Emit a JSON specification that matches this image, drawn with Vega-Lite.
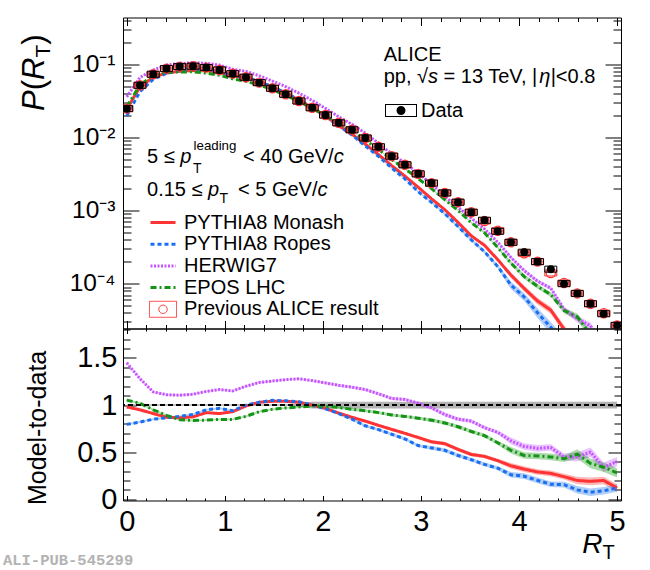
{
"$schema": "https://vega.github.io/schema/vega-lite/v6.json",
"autosize": {"type": "pad"},
"padding": {"left": 2, "top": 6.5, "right": 5, "bottom": 0},
"background": "white",
"spacing": 0,
"bounds": "flush",
"datasets": {
"data": [
{"x":0,"v":0.0247,"p":0.0247,"dr":1,"de":0.008,"s":"Data"},
{"x":0.135,"v":0.0515,"p":0.0515,"dr":1,"de":0.008,"s":"Data"},
{"x":0.27,"v":0.0729,"p":0.0729,"dr":1,"de":0.008,"s":"Data"},
{"x":0.405,"v":0.0871,"p":0.0871,"dr":1,"de":0.008,"s":"Data"},
{"x":0.54,"v":0.0927,"p":0.0927,"dr":1,"de":0.008,"s":"Data"},
{"x":0.676,"v":0.094,"p":0.094,"dr":1,"de":0.008,"s":"Data"},
{"x":0.811,"v":0.0899,"p":0.0899,"dr":1,"de":0.008,"s":"Data"},
{"x":0.946,"v":0.0835,"p":0.0835,"dr":1,"de":0.008,"s":"Data"},
{"x":1.081,"v":0.0743,"p":0.0743,"dr":1,"de":0.008,"s":"Data"},
{"x":1.216,"v":0.0664,"p":0.0664,"dr":1,"de":0.008,"s":"Data"},
{"x":1.351,"v":0.056,"p":0.056,"dr":1,"de":0.008,"s":"Data"},
{"x":1.486,"v":0.0469,"p":0.0469,"dr":1,"de":0.008,"s":"Data"},
{"x":1.621,"v":0.0388,"p":0.0388,"dr":1,"de":0.008,"s":"Data"},
{"x":1.756,"v":0.0314,"p":0.0314,"dr":1,"de":0.02,"s":"Data"},
{"x":1.891,"v":0.0254,"p":0.0254,"dr":1,"de":0.035,"s":"Data"},
{"x":2.027,"v":0.0202,"p":0.0202,"dr":1,"de":0.035,"s":"Data"},
{"x":2.162,"v":0.0158,"p":0.0158,"dr":1,"de":0.035,"s":"Data"},
{"x":2.297,"v":0.0127,"p":0.0127,"dr":1,"de":0.035,"s":"Data"},
{"x":2.432,"v":0.0098,"p":0.0098,"dr":1,"de":0.035,"s":"Data"},
{"x":2.567,"v":0.00743,"p":0.00743,"dr":1,"de":0.035,"s":"Data"},
{"x":2.702,"v":0.00554,"p":0.00554,"dr":1,"de":0.035,"s":"Data"},
{"x":2.837,"v":0.00422,"p":0.00422,"dr":1,"de":0.035,"s":"Data"},
{"x":2.972,"v":0.00317,"p":0.00317,"dr":1,"de":0.035,"s":"Data"},
{"x":3.108,"v":0.00237,"p":0.00237,"dr":1,"de":0.035,"s":"Data"},
{"x":3.243,"v":0.00174,"p":0.00174,"dr":1,"de":0.035,"s":"Data"},
{"x":3.378,"v":0.0013,"p":0.0013,"dr":1,"de":0.035,"s":"Data"},
{"x":3.513,"v":0.000948,"p":0.000948,"dr":1,"de":0.035,"s":"Data"},
{"x":3.648,"v":0.000737,"p":0.00072,"dr":1,"de":0.035,"s":"Data"},
{"x":3.783,"v":0.00052,"p":0.00053,"dr":1,"de":0.035,"s":"Data"},
{"x":3.918,"v":0.000368,"p":0.000368,"dr":1,"de":0.035,"s":"Data"},
{"x":4.053,"v":0.000269,"p":0.00026,"dr":1,"de":0.035,"s":"Data"},
{"x":4.189,"v":0.0002,"p":0.0002,"dr":1,"de":0.035,"s":"Data"},
{"x":4.324,"v":0.000158,"p":0.00014,"dr":1,"de":0.035,"s":"Data"},
{"x":4.459,"v":0.0001,"p":0.000102,"dr":1,"de":0.035,"s":"Data"},
{"x":4.594,"v":0.0000736,"p":0.0000736,"dr":1,"de":0.035,"s":"Data"},
{"x":4.729,"v":0.0000532,"p":0.0000532,"dr":1,"de":0.035,"s":"Data"},
{"x":4.864,"v":0.0000388,"p":0.0000395,"dr":1,"de":0.035,"s":"Data"},
{"x":5.0,"v":0.0000269,"p":0.0000269,"dr":1,"de":0.035,"s":"Data"}
],
"models": [
{"m":"PYTHIA8 Monash","x":0,"v":0.0242,"te":0.000247,"r":0.98,"re":0.01},
{"m":"PYTHIA8 Monash","x":0.135,"v":0.0489,"te":0.000515,"r":0.95,"re":0.01},
{"m":"PYTHIA8 Monash","x":0.27,"v":0.0663,"te":0.000729,"r":0.91,"re":0.01},
{"m":"PYTHIA8 Monash","x":0.405,"v":0.0758,"te":0.000871,"r":0.87,"re":0.01},
{"m":"PYTHIA8 Monash","x":0.54,"v":0.0802,"te":0.000927,"r":0.865,"re":0.01},
{"m":"PYTHIA8 Monash","x":0.676,"v":0.0823,"te":0.00094,"r":0.875,"re":0.01},
{"m":"PYTHIA8 Monash","x":0.811,"v":0.0827,"te":0.000899,"r":0.92,"re":0.01},
{"m":"PYTHIA8 Monash","x":0.946,"v":0.0768,"te":0.000835,"r":0.91,"re":0.01},
{"m":"PYTHIA8 Monash","x":1.081,"v":0.0691,"te":0.000743,"r":0.93,"re":0.01},
{"m":"PYTHIA8 Monash","x":1.216,"v":0.0657,"te":0.000664,"r":0.99,"re":0.01},
{"m":"PYTHIA8 Monash","x":1.351,"v":0.0577,"te":0.00056,"r":1.03,"re":0.01},
{"m":"PYTHIA8 Monash","x":1.486,"v":0.0488,"te":0.000469,"r":1.04,"re":0.01},
{"m":"PYTHIA8 Monash","x":1.621,"v":0.0404,"te":0.000388,"r":1.04,"re":0.01},
{"m":"PYTHIA8 Monash","x":1.756,"v":0.0323,"te":0.000314,"r":1.03,"re":0.01},
{"m":"PYTHIA8 Monash","x":1.891,"v":0.0254,"te":0.000254,"r":1.0,"re":0.01},
{"m":"PYTHIA8 Monash","x":2.027,"v":0.0195,"te":0.000303,"r":0.965,"re":0.015},
{"m":"PYTHIA8 Monash","x":2.162,"v":0.01446,"te":0.000237,"r":0.915,"re":0.015},
{"m":"PYTHIA8 Monash","x":2.297,"v":0.01105,"te":0.00019,"r":0.87,"re":0.015},
{"m":"PYTHIA8 Monash","x":2.432,"v":0.00813,"te":0.000147,"r":0.83,"re":0.015},
{"m":"PYTHIA8 Monash","x":2.567,"v":0.00583,"te":0.000111,"r":0.785,"re":0.015},
{"m":"PYTHIA8 Monash","x":2.702,"v":0.00411,"te":0.0000831,"r":0.742,"re":0.015},
{"m":"PYTHIA8 Monash","x":2.837,"v":0.00295,"te":0.0000633,"r":0.70,"re":0.015},
{"m":"PYTHIA8 Monash","x":2.972,"v":0.00208,"te":0.0000476,"r":0.656,"re":0.015},
{"m":"PYTHIA8 Monash","x":3.108,"v":0.001446,"te":0.0000474,"r":0.61,"re":0.02},
{"m":"PYTHIA8 Monash","x":3.243,"v":0.001027,"te":0.0000348,"r":0.59,"re":0.02},
{"m":"PYTHIA8 Monash","x":3.378,"v":0.000689,"te":0.000026,"r":0.53,"re":0.02},
{"m":"PYTHIA8 Monash","x":3.513,"v":0.000451,"te":0.000019,"r":0.476,"re":0.02},
{"m":"PYTHIA8 Monash","x":3.648,"v":0.000335,"te":0.0000147,"r":0.455,"re":0.02},
{"m":"PYTHIA8 Monash","x":3.783,"v":0.000213,"te":0.0000104,"r":0.41,"re":0.02},
{"m":"PYTHIA8 Monash","x":3.918,"v":0.000131,"te":0.000011,"r":0.355,"re":0.03},
{"m":"PYTHIA8 Monash","x":4.053,"v":0.0000861,"te":0.0000081,"r":0.32,"re":0.03},
{"m":"PYTHIA8 Monash","x":4.189,"v":0.000058,"te":0.000006,"r":0.29,"re":0.03},
{"m":"PYTHIA8 Monash","x":4.324,"v":0.0000435,"te":0.0000047,"r":0.275,"re":0.03},
{"m":"PYTHIA8 Monash","x":4.459,"v":0.000024,"te":0.000003,"r":0.24,"re":0.03},
{"m":"PYTHIA8 Monash","x":4.594,"v":0.0000147,"te":0.0000029,"r":0.20,"re":0.04},
{"m":"PYTHIA8 Monash","x":4.729,"v":0.0000101,"te":0.0000021,"r":0.19,"re":0.04},
{"m":"PYTHIA8 Monash","x":4.864,"v":0.0000078,"te":0.0000016,"r":0.20,"re":0.04},
{"m":"PYTHIA8 Monash","x":5.0,"v":0.0000032,"te":0.0000011,"r":0.12,"re":0.04},
{"m":"PYTHIA8 Ropes","x":0,"v":0.01964,"te":0.000247,"r":0.795,"re":0.01},
{"m":"PYTHIA8 Ropes","x":0.135,"v":0.0422,"te":0.000515,"r":0.82,"re":0.01},
{"m":"PYTHIA8 Ropes","x":0.27,"v":0.062,"te":0.000729,"r":0.85,"re":0.01},
{"m":"PYTHIA8 Ropes","x":0.405,"v":0.0753,"te":0.000871,"r":0.865,"re":0.01},
{"m":"PYTHIA8 Ropes","x":0.54,"v":0.0816,"te":0.000927,"r":0.88,"re":0.01},
{"m":"PYTHIA8 Ropes","x":0.676,"v":0.0846,"te":0.00094,"r":0.90,"re":0.01},
{"m":"PYTHIA8 Ropes","x":0.811,"v":0.0854,"te":0.000899,"r":0.95,"re":0.01},
{"m":"PYTHIA8 Ropes","x":0.946,"v":0.0806,"te":0.000835,"r":0.965,"re":0.01},
{"m":"PYTHIA8 Ropes","x":1.081,"v":0.0698,"te":0.000743,"r":0.94,"re":0.01},
{"m":"PYTHIA8 Ropes","x":1.216,"v":0.0664,"te":0.000664,"r":1.0,"re":0.01},
{"m":"PYTHIA8 Ropes","x":1.351,"v":0.0577,"te":0.00056,"r":1.03,"re":0.01},
{"m":"PYTHIA8 Ropes","x":1.486,"v":0.0492,"te":0.000469,"r":1.05,"re":0.01},
{"m":"PYTHIA8 Ropes","x":1.621,"v":0.0405,"te":0.000388,"r":1.045,"re":0.01},
{"m":"PYTHIA8 Ropes","x":1.756,"v":0.0325,"te":0.000314,"r":1.035,"re":0.01},
{"m":"PYTHIA8 Ropes","x":1.891,"v":0.0254,"te":0.000254,"r":1.0,"re":0.01},
{"m":"PYTHIA8 Ropes","x":2.027,"v":0.0194,"te":0.000303,"r":0.96,"re":0.015},
{"m":"PYTHIA8 Ropes","x":2.162,"v":0.01438,"te":0.000237,"r":0.91,"re":0.015},
{"m":"PYTHIA8 Ropes","x":2.297,"v":0.0108,"te":0.00019,"r":0.85,"re":0.015},
{"m":"PYTHIA8 Ropes","x":2.432,"v":0.00764,"te":0.000147,"r":0.78,"re":0.015},
{"m":"PYTHIA8 Ropes","x":2.567,"v":0.0055,"te":0.000111,"r":0.74,"re":0.015},
{"m":"PYTHIA8 Ropes","x":2.702,"v":0.00382,"te":0.0000831,"r":0.69,"re":0.015},
{"m":"PYTHIA8 Ropes","x":2.837,"v":0.0027,"te":0.0000633,"r":0.64,"re":0.015},
{"m":"PYTHIA8 Ropes","x":2.972,"v":0.00181,"te":0.0000476,"r":0.57,"re":0.015},
{"m":"PYTHIA8 Ropes","x":3.108,"v":0.001292,"te":0.0000474,"r":0.545,"re":0.02},
{"m":"PYTHIA8 Ropes","x":3.243,"v":0.000905,"te":0.0000348,"r":0.52,"re":0.02},
{"m":"PYTHIA8 Ropes","x":3.378,"v":0.000605,"te":0.000026,"r":0.465,"re":0.02},
{"m":"PYTHIA8 Ropes","x":3.513,"v":0.000398,"te":0.000019,"r":0.42,"re":0.02},
{"m":"PYTHIA8 Ropes","x":3.648,"v":0.000273,"te":0.0000147,"r":0.37,"re":0.02},
{"m":"PYTHIA8 Ropes","x":3.783,"v":0.000172,"te":0.0000104,"r":0.33,"re":0.02},
{"m":"PYTHIA8 Ropes","x":3.918,"v":0.0000957,"te":0.000011,"r":0.26,"re":0.03},
{"m":"PYTHIA8 Ropes","x":4.053,"v":0.0000659,"te":0.0000081,"r":0.245,"re":0.03},
{"m":"PYTHIA8 Ropes","x":4.189,"v":0.00004,"te":0.000006,"r":0.20,"re":0.03},
{"m":"PYTHIA8 Ropes","x":4.324,"v":0.0000253,"te":0.0000047,"r":0.16,"re":0.03},
{"m":"PYTHIA8 Ropes","x":4.459,"v":0.0000155,"te":0.000003,"r":0.155,"re":0.03},
{"m":"PYTHIA8 Ropes","x":4.594,"v":0.00000736,"te":0.0000029,"r":0.10,"re":0.04},
{"m":"PYTHIA8 Ropes","x":4.729,"v":0.000004,"te":0.0000021,"r":0.075,"re":0.04},
{"m":"PYTHIA8 Ropes","x":4.864,"v":0.0000035,"te":0.0000016,"r":0.09,"re":0.04},
{"m":"PYTHIA8 Ropes","x":5.0,"v":0.0000032,"te":0.0000011,"r":0.12,"re":0.04},
{"m":"HERWIG7","x":0,"v":0.0358,"te":0.000247,"r":1.449,"re":0.01},
{"m":"HERWIG7","x":0.135,"v":0.0659,"te":0.000515,"r":1.28,"re":0.01},
{"m":"HERWIG7","x":0.27,"v":0.0831,"te":0.000729,"r":1.14,"re":0.01},
{"m":"HERWIG7","x":0.405,"v":0.0967,"te":0.000871,"r":1.11,"re":0.01},
{"m":"HERWIG7","x":0.54,"v":0.1024,"te":0.000927,"r":1.105,"re":0.01},
{"m":"HERWIG7","x":0.676,"v":0.1048,"te":0.00094,"r":1.115,"re":0.01},
{"m":"HERWIG7","x":0.811,"v":0.1029,"te":0.000899,"r":1.145,"re":0.01},
{"m":"HERWIG7","x":0.946,"v":0.0973,"te":0.000835,"r":1.165,"re":0.01},
{"m":"HERWIG7","x":1.081,"v":0.0854,"te":0.000743,"r":1.15,"re":0.01},
{"m":"HERWIG7","x":1.216,"v":0.0797,"te":0.000664,"r":1.2,"re":0.01},
{"m":"HERWIG7","x":1.351,"v":0.0694,"te":0.00056,"r":1.24,"re":0.01},
{"m":"HERWIG7","x":1.486,"v":0.0589,"te":0.000469,"r":1.255,"re":0.01},
{"m":"HERWIG7","x":1.621,"v":0.0493,"te":0.000388,"r":1.27,"re":0.01},
{"m":"HERWIG7","x":1.756,"v":0.0402,"te":0.000314,"r":1.279,"re":0.01},
{"m":"HERWIG7","x":1.891,"v":0.032,"te":0.000254,"r":1.26,"re":0.01},
{"m":"HERWIG7","x":2.027,"v":0.0249,"te":0.000303,"r":1.235,"re":0.015},
{"m":"HERWIG7","x":2.162,"v":0.01912,"te":0.000237,"r":1.21,"re":0.015},
{"m":"HERWIG7","x":2.297,"v":0.01511,"te":0.00019,"r":1.19,"re":0.015},
{"m":"HERWIG7","x":2.432,"v":0.01142,"te":0.000147,"r":1.165,"re":0.015},
{"m":"HERWIG7","x":2.567,"v":0.00832,"te":0.000111,"r":1.12,"re":0.015},
{"m":"HERWIG7","x":2.702,"v":0.00593,"te":0.0000831,"r":1.07,"re":0.015},
{"m":"HERWIG7","x":2.837,"v":0.00447,"te":0.0000633,"r":1.06,"re":0.015},
{"m":"HERWIG7","x":2.972,"v":0.00323,"te":0.0000476,"r":1.02,"re":0.015},
{"m":"HERWIG7","x":3.108,"v":0.0023,"te":0.0000474,"r":0.97,"re":0.02},
{"m":"HERWIG7","x":3.243,"v":0.001566,"te":0.0000348,"r":0.90,"re":0.02},
{"m":"HERWIG7","x":3.378,"v":0.001105,"te":0.000026,"r":0.85,"re":0.02},
{"m":"HERWIG7","x":3.513,"v":0.000787,"te":0.000019,"r":0.83,"re":0.02},
{"m":"HERWIG7","x":3.648,"v":0.00056,"te":0.0000147,"r":0.76,"re":0.02},
{"m":"HERWIG7","x":3.783,"v":0.000369,"te":0.0000104,"r":0.71,"re":0.02},
{"m":"HERWIG7","x":3.918,"v":0.000228,"te":0.0000129,"r":0.62,"re":0.035},
{"m":"HERWIG7","x":4.053,"v":0.000151,"te":0.0000094,"r":0.56,"re":0.035},
{"m":"HERWIG7","x":4.189,"v":0.000108,"te":0.000007,"r":0.54,"re":0.035},
{"m":"HERWIG7","x":4.324,"v":0.0000869,"te":0.0000055,"r":0.55,"re":0.035},
{"m":"HERWIG7","x":4.459,"v":0.000045,"te":0.0000035,"r":0.45,"re":0.035},
{"m":"HERWIG7","x":4.594,"v":0.0000331,"te":0.0000037,"r":0.45,"re":0.05},
{"m":"HERWIG7","x":4.729,"v":0.0000266,"te":0.0000027,"r":0.50,"re":0.05},
{"m":"HERWIG7","x":4.864,"v":0.0000132,"te":0.0000019,"r":0.34,"re":0.05},
{"m":"HERWIG7","x":5.0,"v":0.0000108,"te":0.0000013,"r":0.40,"re":0.05},
{"m":"EPOS LHC","x":0,"v":0.026,"te":0.000247,"r":1.053,"re":0.01},
{"m":"EPOS LHC","x":0.135,"v":0.0525,"te":0.000515,"r":1.02,"re":0.01},
{"m":"EPOS LHC","x":0.27,"v":0.0693,"te":0.000729,"r":0.95,"re":0.01},
{"m":"EPOS LHC","x":0.405,"v":0.0775,"te":0.000871,"r":0.89,"re":0.01},
{"m":"EPOS LHC","x":0.54,"v":0.0783,"te":0.000927,"r":0.845,"re":0.01},
{"m":"EPOS LHC","x":0.676,"v":0.0787,"te":0.00094,"r":0.837,"re":0.01},
{"m":"EPOS LHC","x":0.811,"v":0.0755,"te":0.000899,"r":0.84,"re":0.01},
{"m":"EPOS LHC","x":0.946,"v":0.0708,"te":0.000835,"r":0.848,"re":0.01},
{"m":"EPOS LHC","x":1.081,"v":0.063,"te":0.000743,"r":0.848,"re":0.01},
{"m":"EPOS LHC","x":1.216,"v":0.0584,"te":0.000664,"r":0.88,"re":0.01},
{"m":"EPOS LHC","x":1.351,"v":0.0521,"te":0.00056,"r":0.93,"re":0.01},
{"m":"EPOS LHC","x":1.486,"v":0.0448,"te":0.000469,"r":0.955,"re":0.01},
{"m":"EPOS LHC","x":1.621,"v":0.0376,"te":0.000388,"r":0.97,"re":0.01},
{"m":"EPOS LHC","x":1.756,"v":0.0308,"te":0.000314,"r":0.98,"re":0.01},
{"m":"EPOS LHC","x":1.891,"v":0.0251,"te":0.000254,"r":0.99,"re":0.01},
{"m":"EPOS LHC","x":2.027,"v":0.02,"te":0.000303,"r":0.988,"re":0.015},
{"m":"EPOS LHC","x":2.162,"v":0.01541,"te":0.000237,"r":0.975,"re":0.015},
{"m":"EPOS LHC","x":2.297,"v":0.01213,"te":0.00019,"r":0.955,"re":0.015},
{"m":"EPOS LHC","x":2.432,"v":0.00921,"te":0.000147,"r":0.94,"re":0.015},
{"m":"EPOS LHC","x":2.567,"v":0.00684,"te":0.000111,"r":0.92,"re":0.015},
{"m":"EPOS LHC","x":2.702,"v":0.00496,"te":0.0000831,"r":0.895,"re":0.015},
{"m":"EPOS LHC","x":2.837,"v":0.00371,"te":0.0000633,"r":0.88,"re":0.015},
{"m":"EPOS LHC","x":2.972,"v":0.00273,"te":0.0000476,"r":0.86,"re":0.015},
{"m":"EPOS LHC","x":3.108,"v":0.00199,"te":0.0000474,"r":0.84,"re":0.02},
{"m":"EPOS LHC","x":3.243,"v":0.00141,"te":0.0000348,"r":0.81,"re":0.02},
{"m":"EPOS LHC","x":3.378,"v":0.001001,"te":0.000026,"r":0.77,"re":0.02},
{"m":"EPOS LHC","x":3.513,"v":0.000683,"te":0.000019,"r":0.72,"re":0.02},
{"m":"EPOS LHC","x":3.648,"v":0.000497,"te":0.0000147,"r":0.675,"re":0.02},
{"m":"EPOS LHC","x":3.783,"v":0.000312,"te":0.0000104,"r":0.60,"re":0.02},
{"m":"EPOS LHC","x":3.918,"v":0.000191,"te":0.0000129,"r":0.52,"re":0.035},
{"m":"EPOS LHC","x":4.053,"v":0.000125,"te":0.0000094,"r":0.465,"re":0.035},
{"m":"EPOS LHC","x":4.189,"v":0.000092,"te":0.000007,"r":0.46,"re":0.035},
{"m":"EPOS LHC","x":4.324,"v":0.0000711,"te":0.0000055,"r":0.45,"re":0.035},
{"m":"EPOS LHC","x":4.459,"v":0.000043,"te":0.0000035,"r":0.43,"re":0.035},
{"m":"EPOS LHC","x":4.594,"v":0.0000353,"te":0.0000037,"r":0.48,"re":0.05},
{"m":"EPOS LHC","x":4.729,"v":0.0000202,"te":0.0000027,"r":0.38,"re":0.05},
{"m":"EPOS LHC","x":4.864,"v":0.0000132,"te":0.0000019,"r":0.34,"re":0.05},
{"m":"EPOS LHC","x":5.0,"v":0.0000075,"te":0.0000013,"r":0.28,"re":0.05}
]
},
"vconcat": [
{
"width": 498, "height": 311,
"resolve": {"axis": {"x": "independent", "y": "independent"}},
"layer": [
{"data": {"name": "models"},
 "mark": {"type": "errorband", "opacity": 0.35, "clip": true},
 "encoding": {
  "x": {"field": "x", "type": "quantitative", "scale": {"domain": [-0.038, 5.04], "nice": false, "zero": false}, "axis": null},
  "y": {"field": "v", "type": "quantitative", "scale": {"type": "log", "domain": [0.0000244, 0.435], "nice": false}, "axis": null},
  "yError": {"field": "te"},
  "fill": {"field": "m", "type": "nominal", "scale": {"domain": ["PYTHIA8 Monash", "PYTHIA8 Ropes", "HERWIG7", "EPOS LHC"], "range": ["#ff3333", "#1a6ff0", "#c455ff", "#149414"]}, "legend": null}
 }},
{"data": {"name": "models"},
 "mark": {"type": "line", "strokeWidth": 3, "clip": true},
 "encoding": {
  "x": {"field": "x", "type": "quantitative", "axis": null},
  "y": {"field": "v", "type": "quantitative", "axis": null},
  "color": {"field": "m", "type": "nominal",
   "scale": {"domain": ["PYTHIA8 Monash", "PYTHIA8 Ropes", "HERWIG7", "EPOS LHC", "Previous ALICE result"], "range": ["#ff3333", "#1a6ff0", "#c455ff", "#149414", "#ff3333"]},
   "legend": {"orient": "none", "legendX": 30, "legendY": 195, "title": null, "labelFont": "Liberation Sans", "labelFontSize": 20, "labelColor": "black", "labelLimit": 400, "symbolSize": 4, "labelOffset": 11, "rowPadding": 1.7, "padding": 0,
    "encode": {"symbols": {"update": {
     "shape": {"signal": "datum.value === 'Previous ALICE result' ? 'M-13.5,-8H13.5V8H-13.5Z M4.2,0A4.2,4.2 0 1,1 -4.2,0A4.2,4.2 0 1,1 4.2,0Z' : 'M-12.5,0H12.5'"},
     "strokeDash": {"signal": "datum.value === 'PYTHIA8 Ropes' ? [4,3] : datum.value === 'HERWIG7' ? [2,1.5] : datum.value === 'EPOS LHC' ? [6,3,2,3] : [1,0]"},
     "strokeWidth": {"signal": "datum.value === 'Previous ALICE result' ? 1 : 3"},
     "fill": {"value": "transparent"},
     "stroke": {"scale": "color", "field": "value"},
     "opacity": {"value": 1}
    }}}}
  },
  "strokeDash": {"field": "m", "type": "nominal", "scale": {"domain": ["PYTHIA8 Monash", "PYTHIA8 Ropes", "HERWIG7", "EPOS LHC", "Previous ALICE result"], "range": [[1,0],[4,3],[2,1.5],[6,3,2,3],[1,0]]}, "legend": null}
 }},
{"data": {"name": "data"},
 "mark": {"type": "point", "shape": "M-6,-3H6V3H-6Z", "size": 4, "filled": false, "color": "#ff3333", "strokeWidth": 1, "opacity": 1, "clip": true},
 "encoding": {
  "x": {"field": "x", "type": "quantitative", "axis": null},
  "y": {"field": "p", "type": "quantitative", "axis": null}
 }},
{"data": {"name": "data"},
 "mark": {"type": "point", "shape": "circle", "size": 85, "filled": false, "color": "#ff3333", "strokeWidth": 1.2, "opacity": 1, "clip": true},
 "encoding": {
  "x": {"field": "x", "type": "quantitative", "axis": null},
  "y": {"field": "p", "type": "quantitative", "axis": null}
 }},
{"data": {"name": "data"},
 "mark": {"type": "point", "shape": "M-6,-3H6V3H-6Z", "size": 4, "filled": false, "color": "black", "strokeWidth": 1, "opacity": 1, "clip": true},
 "encoding": {
  "x": {"field": "x", "type": "quantitative",
   "axis": {"orient": "bottom", "values": [0,0.2,0.4,0.6,0.8,1,1.2,1.4,1.6,1.8,2,2.2,2.4,2.6,2.8,3,3.2,3.4,3.6,3.8,4,4.2,4.4,4.6,4.8,5], "labels": false, "title": null,
    "tickSize": {"condition": {"test": "abs(datum.value - round(datum.value)) < 0.001", "value": -8}, "value": -4}}},
  "y": {"field": "v", "type": "quantitative",
   "axis": {"orient": "left", "title": null,
    "values": [0.00003,0.00004,0.00005,0.00006,0.00007,0.00008,0.00009,0.0001,0.0002,0.0003,0.0004,0.0005,0.0006,0.0007,0.0008,0.0009,0.001,0.002,0.003,0.004,0.005,0.006,0.007,0.008,0.009,0.01,0.02,0.03,0.04,0.05,0.06,0.07,0.08,0.09,0.1,0.2,0.3,0.4],
    "labelExpr": "datum.value == 0.1 ? '10⁻¹' : datum.value == 0.01 ? '10⁻²' : datum.value == 0.001 ? '10⁻³' : datum.value == 0.0001 ? '10⁻⁴' : ''",
    "labelFontSize": 24.5, "labelPadding": 24,
    "tickSize": {"condition": {"test": "abs(log(datum.value)/LN10 - round(log(datum.value)/LN10)) < 0.01", "value": -16}, "value": -8}}}
 }},
{"data": {"name": "data"},
 "mark": {"type": "point", "shape": "circle", "size": 64, "filled": true, "color": "black", "clip": true},
 "encoding": {
  "x": {"field": "x", "type": "quantitative",
   "axis": {"orient": "top", "values": [0,0.2,0.4,0.6,0.8,1,1.2,1.4,1.6,1.8,2,2.2,2.4,2.6,2.8,3,3.2,3.4,3.6,3.8,4,4.2,4.4,4.6,4.8,5], "labels": false, "title": null,
    "tickSize": {"condition": {"test": "abs(datum.value - round(datum.value)) < 0.001", "value": -8}, "value": -4}}},
  "y": {"field": "v", "type": "quantitative",
   "axis": {"orient": "right", "title": null, "labels": false,
    "values": [0.00003,0.00004,0.00005,0.00006,0.00007,0.00008,0.00009,0.0001,0.0002,0.0003,0.0004,0.0005,0.0006,0.0007,0.0008,0.0009,0.001,0.002,0.003,0.004,0.005,0.006,0.007,0.008,0.009,0.01,0.02,0.03,0.04,0.05,0.06,0.07,0.08,0.09,0.1,0.2,0.3,0.4],
    "tickSize": {"condition": {"test": "abs(log(datum.value)/LN10 - round(log(datum.value)/LN10)) < 0.01", "value": -16}, "value": -8}}},
  "opacity": {"field": "s", "type": "nominal", "scale": {"domain": ["Data"], "range": [1]},
   "legend": {"orient": "none", "legendX": 268, "legendY": 83, "title": null, "labelFont": "Liberation Sans", "labelFontSize": 20, "labelColor": "black", "symbolSize": 4, "labelOffset": 10, "padding": 0,
    "symbolType": "M-16,-6.5H16V6.5H-16Z M-15,-5.5V5.5H15V-5.5Z M4.5,0A4.5,4.5 0 1,1 -4.5,0A4.5,4.5 0 1,1 4.5,0Z",
    "symbolFillColor": "black", "symbolStrokeWidth": 0, "symbolOpacity": 1}}
 }},
{"data": {"values": [{"t": "ALICE"}]},
 "mark": {"type": "text", "align": "left", "baseline": "alphabetic", "fontSize": 20},
 "encoding": {"x": {"datum": 2.62, "axis": null}, "y": {"datum": 0.111, "axis": null}, "text": {"field": "t"}}},
{"data": {"values": [{"t": "pp, √"}]},
 "mark": {"type": "text", "align": "left", "baseline": "alphabetic", "fontSize": 20},
 "encoding": {"x": {"datum": 2.62, "axis": null}, "y": {"datum": 0.05543, "axis": null}, "text": {"field": "t"}}},
{"data": {"values": [{"t": "s"}]},
 "mark": {"type": "text", "align": "left", "baseline": "alphabetic", "fontSize": 20, "fontStyle": "italic", "dx": 44.3},
 "encoding": {"x": {"datum": 2.62, "axis": null}, "y": {"datum": 0.05543, "axis": null}, "text": {"field": "t"}}},
{"data": {"values": [{"t": "= 13 TeV, |"}]},
 "mark": {"type": "text", "align": "left", "baseline": "alphabetic", "fontSize": 20, "dx": 59.9},
 "encoding": {"x": {"datum": 2.62, "axis": null}, "y": {"datum": 0.05543, "axis": null}, "text": {"field": "t"}}},
{"data": {"values": [{"t": "η"}]},
 "mark": {"type": "text", "align": "left", "baseline": "alphabetic", "fontSize": 20, "fontStyle": "italic", "dx": 155.5},
 "encoding": {"x": {"datum": 2.62, "axis": null}, "y": {"datum": 0.05543, "axis": null}, "text": {"field": "t"}}},
{"data": {"values": [{"t": "|<0.8"}]},
 "mark": {"type": "text", "align": "left", "baseline": "alphabetic", "fontSize": 20, "dx": 167},
 "encoding": {"x": {"datum": 2.62, "axis": null}, "y": {"datum": 0.05543, "axis": null}, "text": {"field": "t"}}},
{"data": {"values": [{"t": "5 ≤"}]},
 "mark": {"type": "text", "align": "left", "baseline": "alphabetic", "fontSize": 20},
 "encoding": {"x": {"datum": 0.207, "axis": null}, "y": {"datum": 0.004489, "axis": null}, "text": {"field": "t"}}},
{"data": {"values": [{"t": "p"}]},
 "mark": {"type": "text", "align": "left", "baseline": "alphabetic", "fontSize": 20, "fontStyle": "italic", "dx": 33.2},
 "encoding": {"x": {"datum": 0.207, "axis": null}, "y": {"datum": 0.004489, "axis": null}, "text": {"field": "t"}}},
{"data": {"values": [{"t": "T"}]},
 "mark": {"type": "text", "align": "left", "baseline": "alphabetic", "fontSize": 14, "dx": 46, "dy": 10},
 "encoding": {"x": {"datum": 0.207, "axis": null}, "y": {"datum": 0.004489, "axis": null}, "text": {"field": "t"}}},
{"data": {"values": [{"t": "leading"}]},
 "mark": {"type": "text", "align": "left", "baseline": "alphabetic", "fontSize": 13.3, "dx": 46.5, "dy": -13},
 "encoding": {"x": {"datum": 0.207, "axis": null}, "y": {"datum": 0.004489, "axis": null}, "text": {"field": "t"}}},
{"data": {"values": [{"t": "< 40 GeV/"}]},
 "mark": {"type": "text", "align": "left", "baseline": "alphabetic", "fontSize": 20, "dx": 96},
 "encoding": {"x": {"datum": 0.207, "axis": null}, "y": {"datum": 0.004489, "axis": null}, "text": {"field": "t"}}},
{"data": {"values": [{"t": "c"}]},
 "mark": {"type": "text", "align": "left", "baseline": "alphabetic", "fontSize": 20, "fontStyle": "italic", "dx": 186.6},
 "encoding": {"x": {"datum": 0.207, "axis": null}, "y": {"datum": 0.004489, "axis": null}, "text": {"field": "t"}}},
{"data": {"values": [{"t": "0.15 ≤"}]},
 "mark": {"type": "text", "align": "left", "baseline": "alphabetic", "fontSize": 20},
 "encoding": {"x": {"datum": 0.207, "axis": null}, "y": {"datum": 0.00157, "axis": null}, "text": {"field": "t"}}},
{"data": {"values": [{"t": "p"}]},
 "mark": {"type": "text", "align": "left", "baseline": "alphabetic", "fontSize": 20, "fontStyle": "italic", "dx": 61},
 "encoding": {"x": {"datum": 0.207, "axis": null}, "y": {"datum": 0.00157, "axis": null}, "text": {"field": "t"}}},
{"data": {"values": [{"t": "T"}]},
 "mark": {"type": "text", "align": "left", "baseline": "alphabetic", "fontSize": 14, "dx": 72.5, "dy": 7},
 "encoding": {"x": {"datum": 0.207, "axis": null}, "y": {"datum": 0.00157, "axis": null}, "text": {"field": "t"}}},
{"data": {"values": [{"t": "< 5 GeV/"}]},
 "mark": {"type": "text", "align": "left", "baseline": "alphabetic", "fontSize": 20, "dx": 91},
 "encoding": {"x": {"datum": 0.207, "axis": null}, "y": {"datum": 0.00157, "axis": null}, "text": {"field": "t"}}},
{"data": {"values": [{"t": "c"}]},
 "mark": {"type": "text", "align": "left", "baseline": "alphabetic", "fontSize": 20, "fontStyle": "italic", "dx": 170.5},
 "encoding": {"x": {"datum": 0.207, "axis": null}, "y": {"datum": 0.00157, "axis": null}, "text": {"field": "t"}}},
{"data": {"values": [{"t": "P"}]},
 "mark": {"type": "text", "align": "left", "baseline": "alphabetic", "fontSize": 31, "fontStyle": "italic", "angle": 270},
 "encoding": {"x": {"datum": -0.8439, "axis": null}, "y": {"datum": 0.02293, "axis": null}, "text": {"field": "t"}}},
{"data": {"values": [{"t": "("}]},
 "mark": {"type": "text", "align": "left", "baseline": "alphabetic", "fontSize": 31, "angle": 270, "dx": 20.7},
 "encoding": {"x": {"datum": -0.8439, "axis": null}, "y": {"datum": 0.02293, "axis": null}, "text": {"field": "t"}}},
{"data": {"values": [{"t": "R"}]},
 "mark": {"type": "text", "align": "left", "baseline": "alphabetic", "fontSize": 31, "fontStyle": "italic", "angle": 270, "dx": 31},
 "encoding": {"x": {"datum": -0.8439, "axis": null}, "y": {"datum": 0.02293, "axis": null}, "text": {"field": "t"}}},
{"data": {"values": [{"t": "T"}]},
 "mark": {"type": "text", "align": "left", "baseline": "alphabetic", "fontSize": 21, "angle": 270, "dx": 53.4, "dy": 6},
 "encoding": {"x": {"datum": -0.8439, "axis": null}, "y": {"datum": 0.02293, "axis": null}, "text": {"field": "t"}}},
{"data": {"values": [{"t": ")"}]},
 "mark": {"type": "text", "align": "left", "baseline": "alphabetic", "fontSize": 31, "angle": 270, "dx": 66.2},
 "encoding": {"x": {"datum": -0.8439, "axis": null}, "y": {"datum": 0.02293, "axis": null}, "text": {"field": "t"}}}
]
},
{
"width": 498, "height": 172,
"resolve": {"axis": {"x": "independent", "y": "independent"}},
"layer": [
{"data": {"name": "data"},
 "mark": {"type": "errorband", "color": "#9a9a9a", "opacity": 0.75, "clip": true},
 "encoding": {
  "x": {"field": "x", "type": "quantitative", "scale": {"domain": [-0.038, 5.04], "nice": false, "zero": false},
   "axis": {"orient": "top", "values": [0,0.2,0.4,0.6,0.8,1,1.2,1.4,1.6,1.8,2,2.2,2.4,2.6,2.8,3,3.2,3.4,3.6,3.8,4,4.2,4.4,4.6,4.8,5], "labels": false, "title": null,
    "tickSize": {"condition": {"test": "abs(datum.value - round(datum.value)) < 0.001", "value": -5}, "value": -2.5}}},
  "y": {"field": "dr", "type": "quantitative", "scale": {"domain": [-0.013, 1.813], "nice": false, "zero": false},
   "axis": {"orient": "right", "labels": false, "title": null,
    "values": [0,0.1,0.2,0.3,0.4,0.5,0.6,0.7,0.8,0.9,1,1.1,1.2,1.3,1.4,1.5,1.6,1.7,1.8],
    "tickSize": {"condition": {"test": "abs(datum.value*2 - round(datum.value*2)) < 0.001", "value": -13}, "value": -7}}},
  "yError": {"field": "de"}
 }},
{"data": {"name": "models"},
 "mark": {"type": "errorband", "opacity": 0.35, "clip": true},
 "encoding": {
  "x": {"field": "x", "type": "quantitative", "axis": null},
  "y": {"field": "r", "type": "quantitative", "axis": null},
  "yError": {"field": "re"},
  "color": {"field": "m", "type": "nominal", "legend": null}
 }},
{"data": {"name": "models"},
 "mark": {"type": "line", "strokeWidth": 3, "clip": true},
 "encoding": {
  "x": {"field": "x", "type": "quantitative",
   "axis": {"orient": "bottom", "values": [0,0.2,0.4,0.6,0.8,1,1.2,1.4,1.6,1.8,2,2.2,2.4,2.6,2.8,3,3.2,3.4,3.6,3.8,4,4.2,4.4,4.6,4.8,5], "title": null,
    "labelExpr": "abs(datum.value - round(datum.value)) < 0.001 ? toString(round(datum.value)) : ''",
    "labelFontSize": 29, "labelPadding": 11.5,
    "tickSize": {"condition": {"test": "abs(datum.value - round(datum.value)) < 0.001", "value": -5}, "value": -2.5}}},
  "y": {"field": "r", "type": "quantitative",
   "axis": {"orient": "left",
    "values": [0,0.1,0.2,0.3,0.4,0.5,0.6,0.7,0.8,0.9,1,1.1,1.2,1.3,1.4,1.5,1.6,1.7,1.8],
    "labelExpr": "abs(datum.value*2 - round(datum.value*2)) < 0.001 ? toString(round(datum.value*10)/10) : ''",
    "labelFontSize": 29, "labelPadding": 19,
    "tickSize": {"condition": {"test": "abs(datum.value*2 - round(datum.value*2)) < 0.001", "value": -13}, "value": -7},
    "title": "Model-to-data", "titleFontSize": 25, "titleX": -78, "titleY": 176, "titleAngle": 270, "titleAlign": "left", "titleBaseline": "alphabetic"}},
  "color": {"field": "m", "type": "nominal", "legend": null},
  "strokeDash": {"field": "m", "type": "nominal", "legend": null}
 }},
{"data": {"values": [{"r": 1}]},
 "mark": {"type": "rule", "color": "black", "strokeWidth": 2, "strokeDash": [5,3]},
 "encoding": {"y": {"field": "r", "type": "quantitative", "axis": null}}},
{"data": {"values": [{"t": "R"}]},
 "mark": {"type": "text", "align": "left", "baseline": "alphabetic", "fontSize": 28, "fontStyle": "italic"},
 "encoding": {"x": {"datum": 4.646, "axis": null}, "y": {"datum": -0.5695, "axis": null}, "text": {"field": "t"}}},
{"data": {"values": [{"t": "T"}]},
 "mark": {"type": "text", "align": "left", "baseline": "alphabetic", "fontSize": 20, "dx": 20.2, "dy": 6},
 "encoding": {"x": {"datum": 4.646, "axis": null}, "y": {"datum": -0.5695, "axis": null}, "text": {"field": "t"}}},
{"data": {"values": [{"t": "ALI-PUB-545299"}]},
 "mark": {"type": "text", "align": "left", "baseline": "alphabetic", "fontSize": 15.5, "font": "Liberation Mono", "fontWeight": "bold", "color": "#b3b3b3"},
 "encoding": {"x": {"datum": -1.262, "axis": null}, "y": {"datum": -0.70, "axis": null}, "text": {"field": "t"}}}
]
}
],
"resolve": {"legend": {"color": "independent", "opacity": "independent"}},
"config": {
 "view": {"stroke": "black", "strokeWidth": 1},
 "axis": {"domain": false, "grid": false, "tickColor": "black", "tickWidth": 1, "labelFont": "Liberation Sans", "labelColor": "black", "titleFont": "Liberation Sans", "titleColor": "black", "titleFontWeight": "normal", "labelFlush": false, "labelOverlap": false},
 "legend": {"labelFont": "Liberation Sans", "labelColor": "black"},
 "text": {"font": "Liberation Sans", "color": "black"}
}
}
